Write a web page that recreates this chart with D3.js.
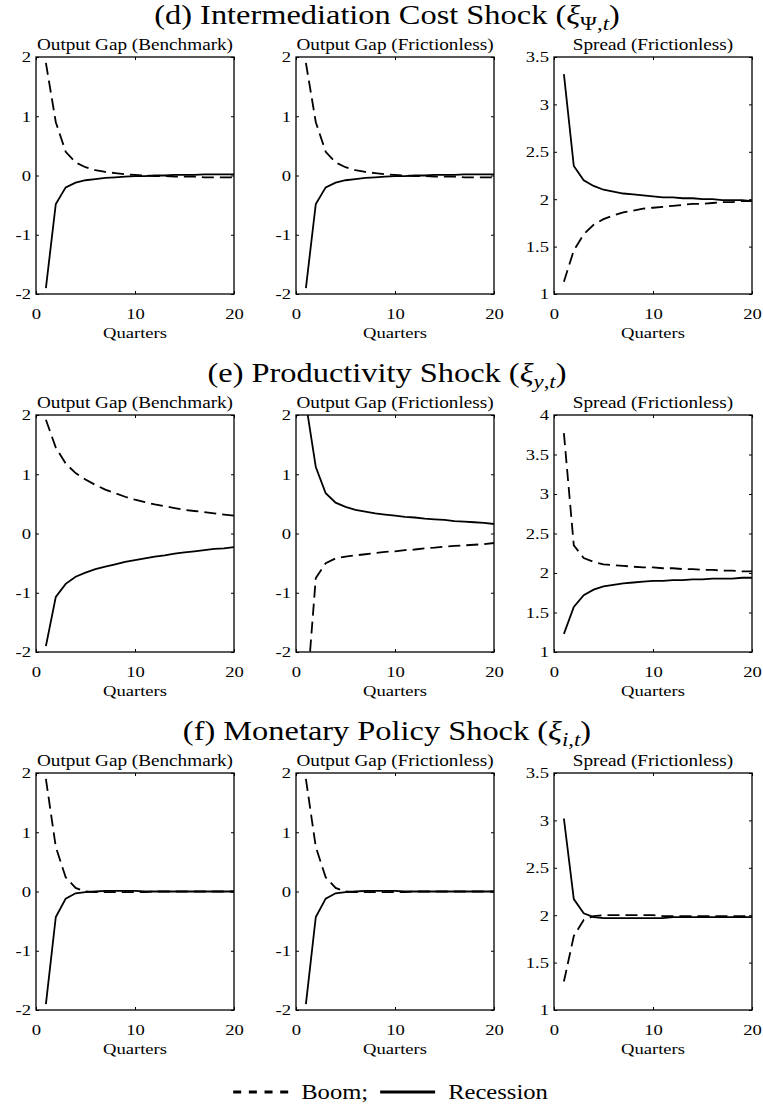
<!DOCTYPE html>
<html>
<head>
<meta charset="utf-8">
<script src="https://cdn.jsdelivr.net/npm/d3@7"></script>
<style>
  body { margin: 0; background: #fff; }
  svg { display: block; }
  text { fill: #000; }
</style>
</head>
<body>
<svg id="fig" width="763" height="1117"></svg>
<script>
// Horizon in quarters (impulse responses start at quarter 1)
const quarters = d3.range(1, 21);
const xTicks = [0, 10, 20];
const gapTicks = [-2, -1, 0, 1, 2];
const spreadTicks35 = [1, 1.5, 2, 2.5, 3, 3.5];
const spreadTicks4 = [1, 1.5, 2, 2.5, 3, 3.5, 4];

// (d) Intermediation cost shock
const dGapBenchBoom = [1.90, 0.90, 0.40, 0.22, 0.14, 0.09, 0.06, 0.04, 0.02, 0.01, 0.00, -0.01, -0.01, -0.02, -0.02, -0.02, -0.03, -0.03, -0.03, -0.03];
const dGapBenchRec  = [-1.90, -0.48, -0.20, -0.12, -0.08, -0.06, -0.04, -0.03, -0.02, -0.01, -0.01, 0.00, 0.00, 0.01, 0.01, 0.01, 0.02, 0.02, 0.02, 0.02];
const dGapFricBoom  = [1.90, 0.90, 0.40, 0.22, 0.14, 0.09, 0.06, 0.04, 0.02, 0.01, 0.00, -0.01, -0.01, -0.02, -0.02, -0.02, -0.03, -0.03, -0.03, -0.03];
const dGapFricRec   = [-1.90, -0.48, -0.20, -0.12, -0.08, -0.06, -0.04, -0.03, -0.02, -0.01, -0.01, 0.00, 0.00, 0.01, 0.01, 0.01, 0.02, 0.02, 0.02, 0.02];
const dSpreadBoom   = [1.13, 1.46, 1.63, 1.73, 1.79, 1.83, 1.86, 1.88, 1.90, 1.91, 1.92, 1.93, 1.94, 1.95, 1.95, 1.96, 1.97, 1.97, 1.98, 1.98];
const dSpreadRec    = [3.32, 2.35, 2.20, 2.14, 2.10, 2.08, 2.06, 2.05, 2.04, 2.03, 2.02, 2.02, 2.01, 2.01, 2.00, 2.00, 1.99, 1.99, 1.99, 1.98];

// (e) Productivity shock
const eGapBenchBoom = [1.92, 1.45, 1.18, 1.02, 0.91, 0.82, 0.74, 0.68, 0.62, 0.57, 0.53, 0.49, 0.46, 0.43, 0.40, 0.38, 0.36, 0.34, 0.32, 0.30];
const eGapBenchRec  = [-1.90, -1.07, -0.85, -0.73, -0.66, -0.60, -0.56, -0.52, -0.48, -0.45, -0.42, -0.39, -0.37, -0.34, -0.32, -0.30, -0.28, -0.26, -0.25, -0.23];
const eGapFricBoom  = [-2.90, -0.75, -0.50, -0.42, -0.39, -0.37, -0.35, -0.33, -0.31, -0.30, -0.28, -0.27, -0.25, -0.24, -0.22, -0.21, -0.20, -0.19, -0.18, -0.16];
const eGapFricRec   = [2.20, 1.12, 0.68, 0.52, 0.45, 0.40, 0.37, 0.34, 0.32, 0.30, 0.28, 0.27, 0.25, 0.24, 0.23, 0.21, 0.20, 0.19, 0.18, 0.16];
const eSpreadBoom   = [3.77, 2.35, 2.19, 2.14, 2.11, 2.10, 2.09, 2.08, 2.07, 2.07, 2.06, 2.06, 2.05, 2.05, 2.04, 2.04, 2.03, 2.03, 2.02, 2.02];
const eSpreadRec    = [1.23, 1.57, 1.72, 1.79, 1.83, 1.85, 1.87, 1.88, 1.89, 1.90, 1.90, 1.91, 1.91, 1.92, 1.92, 1.93, 1.93, 1.93, 1.94, 1.94];

// (f) Monetary policy shock
const fGapBenchBoom = [1.90, 0.75, 0.24, 0.06, 0.00, -0.01, -0.01, -0.01, -0.01, -0.01, -0.01, 0.00, 0.00, 0.00, 0.00, 0.00, 0.00, 0.00, 0.00, 0.00];
const fGapBenchRec  = [-1.90, -0.43, -0.12, -0.03, -0.01, 0.00, 0.01, 0.01, 0.01, 0.01, 0.00, 0.00, 0.00, 0.00, 0.00, 0.00, 0.00, 0.00, 0.00, 0.00];
const fGapFricBoom  = [1.90, 0.75, 0.24, 0.06, 0.00, -0.01, -0.01, -0.01, -0.01, -0.01, -0.01, 0.00, 0.00, 0.00, 0.00, 0.00, 0.00, 0.00, 0.00, 0.00];
const fGapFricRec   = [-1.90, -0.43, -0.12, -0.03, -0.01, 0.00, 0.01, 0.01, 0.01, 0.01, 0.00, 0.00, 0.00, 0.00, 0.00, 0.00, 0.00, 0.00, 0.00, 0.00];
const fSpreadBoom   = [1.30, 1.78, 1.95, 1.99, 2.00, 2.00, 2.00, 2.00, 2.00, 2.00, 1.99, 1.99, 1.99, 1.99, 1.99, 1.99, 1.99, 1.99, 1.99, 1.99];
const fSpreadRec    = [3.02, 2.17, 2.02, 1.98, 1.97, 1.97, 1.97, 1.97, 1.97, 1.97, 1.97, 1.98, 1.98, 1.98, 1.98, 1.98, 1.98, 1.98, 1.98, 1.98];

const panelTitles = ["Output Gap (Benchmark)", "Output Gap (Frictionless)", "Spread (Frictionless)"];
const xLabel = "Quarters";

const sections = [
  { head: "(d) Intermediation Cost Shock (", sub: [["Ψ", false], [",", false], ["t", true]],
    panels: [
      { domain: [-2, 2], ticks: gapTicks, boom: dGapBenchBoom, rec: dGapBenchRec },
      { domain: [-2, 2], ticks: gapTicks, boom: dGapFricBoom, rec: dGapFricRec },
      { domain: [1, 3.5], ticks: spreadTicks35, boom: dSpreadBoom, rec: dSpreadRec }
    ] },
  { head: "(e) Productivity Shock (", sub: [["y", true], [",", false], ["t", true]],
    panels: [
      { domain: [-2, 2], ticks: gapTicks, boom: eGapBenchBoom, rec: eGapBenchRec },
      { domain: [-2, 2], ticks: gapTicks, boom: eGapFricBoom, rec: eGapFricRec },
      { domain: [1, 4], ticks: spreadTicks4, boom: eSpreadBoom, rec: eSpreadRec }
    ] },
  { head: "(f) Monetary Policy Shock (", sub: [["i", true], [",", false], ["t", true]],
    panels: [
      { domain: [-2, 2], ticks: gapTicks, boom: fGapBenchBoom, rec: fGapBenchRec },
      { domain: [-2, 2], ticks: gapTicks, boom: fGapFricBoom, rec: fGapFricRec },
      { domain: [1, 3.5], ticks: spreadTicks35, boom: fSpreadBoom, rec: fSpreadRec }
    ] }
];

const legendItems = [
  { label: "Boom;", dashed: true },
  { label: "Recession", dashed: false }
];

// ---- layout ----
const serif = "'Liberation Serif', 'Times New Roman', Times, serif";
const stretch = 1.2;              // text is set slightly wide throughout
const colX = [36, 296, 554];
const rowY = [57, 415, 773];
const pw = 198, ph = 237;
const dashPattern = "12,6";

const svg = d3.select("#fig");
const fmt = v => String(v);

function wideText(sel, x, y, size) {
  return sel.append("text")
    .attr("transform", `translate(${x},${y}) scale(${stretch},1)`)
    .attr("font-family", serif)
    .attr("font-size", size);
}

sections.forEach((sec, r) => {
  const top = rowY[r];

  // section heading
  const head = wideText(svg, 387, top - 33, 27).attr("text-anchor", "middle");
  head.append("tspan").text(sec.head);
  head.append("tspan").attr("font-style", "italic").text("ξ");
  sec.sub.forEach(([s, it], k) => {
    const t = head.append("tspan").attr("font-size", 19).text(s);
    if (it) t.attr("font-style", "italic");
    if (k === 0) t.attr("dy", 6);
  });
  head.append("tspan").attr("dy", -6).text(")");

  sec.panels.forEach((p, c) => {
    const left = colX[c];
    const g = svg.append("g").attr("transform", `translate(${left},${top})`);
    const x = d3.scaleLinear().domain([0, 20]).range([0, pw]);
    const y = d3.scaleLinear().domain(p.domain).range([ph, 0]);

    const clipId = `clip-${r}-${c}`;
    g.append("clipPath").attr("id", clipId)
      .append("rect").attr("width", pw).attr("height", ph);

    const line = d3.line().x((d, i) => x(quarters[i])).y(d => y(d));
    const lines = g.append("g").attr("clip-path", `url(#${clipId})`);
    lines.append("path").attr("d", line(p.boom))
      .attr("fill", "none").attr("stroke", "#000").attr("stroke-width", 1.8)
      .attr("stroke-dasharray", dashPattern);
    lines.append("path").attr("d", line(p.rec))
      .attr("fill", "none").attr("stroke", "#000").attr("stroke-width", 1.8);

    // inward ticks on all four sides
    const ax = [
      { a: d3.axisLeft(y).tickValues(p.ticks), t: "translate(0,0)", lab: true },
      { a: d3.axisRight(y).tickValues(p.ticks), t: `translate(${pw},0)`, lab: false },
      { a: d3.axisBottom(x).tickValues(xTicks), t: `translate(0,${ph})`, lab: true },
      { a: d3.axisTop(x).tickValues(xTicks), t: "translate(0,0)", lab: false }
    ];
    ax.forEach(({ a, t, lab }) => {
      a.tickSize(-3).tickFormat(lab ? fmt : "");
      const ag = g.append("g").attr("transform", t).call(a);
      ag.select(".domain").remove();
      ag.selectAll(".tick line").attr("stroke", "#000").attr("stroke-width", 1);
      ag.selectAll(".tick text").attr("font-family", serif).attr("font-size", 15.5).attr("fill", "#000");
    });
    // tick labels set wide like the rest of the text
    g.selectAll("g").filter(function () { return this.getAttribute("text-anchor") === "end"; })
      .selectAll(".tick text").attr("x", 0)
      .attr("transform", `translate(-5,0) scale(${stretch},1)`);
    g.selectAll("g").filter(function () {
        return this.getAttribute("text-anchor") === "middle" && this.getAttribute("transform") === `translate(0,${ph})`;
      })
      .selectAll(".tick text").attr("y", 0).attr("dy", null)
      .attr("transform", `translate(0,25) scale(${stretch},1)`);

    // frame
    g.append("rect").attr("width", pw).attr("height", ph)
      .attr("fill", "none").attr("stroke", "#000").attr("stroke-width", 1.3);

    wideText(g, pw / 2, -7, 16).attr("text-anchor", "middle").text(panelTitles[c]);
    wideText(g, pw / 2, ph + 44, 15.5).attr("text-anchor", "middle").text(xLabel);
  });
});

// ---- legend ----
const legend = svg.append("g");
const keyLen = 55, keyGap = 13, itemGap = 12;
let cursor = 0;
legendItems.forEach((it, i) => {
  legend.append("line").attr("x1", cursor).attr("x2", cursor + keyLen)
    .attr("y1", -7).attr("y2", -7)
    .attr("stroke", "#000").attr("stroke-width", 3.2)
    .attr("stroke-dasharray", it.dashed ? "8,7.67" : null);
  cursor += keyLen + keyGap;
  const t = wideText(legend, cursor, 0, 20.5).text(it.label);
  cursor += t.node().getComputedTextLength() * stretch + itemGap;
});
const legendWidth = cursor - itemGap;
legend.attr("transform", `translate(${390.5 - legendWidth / 2},1099)`);
</script>
</body>
</html>
